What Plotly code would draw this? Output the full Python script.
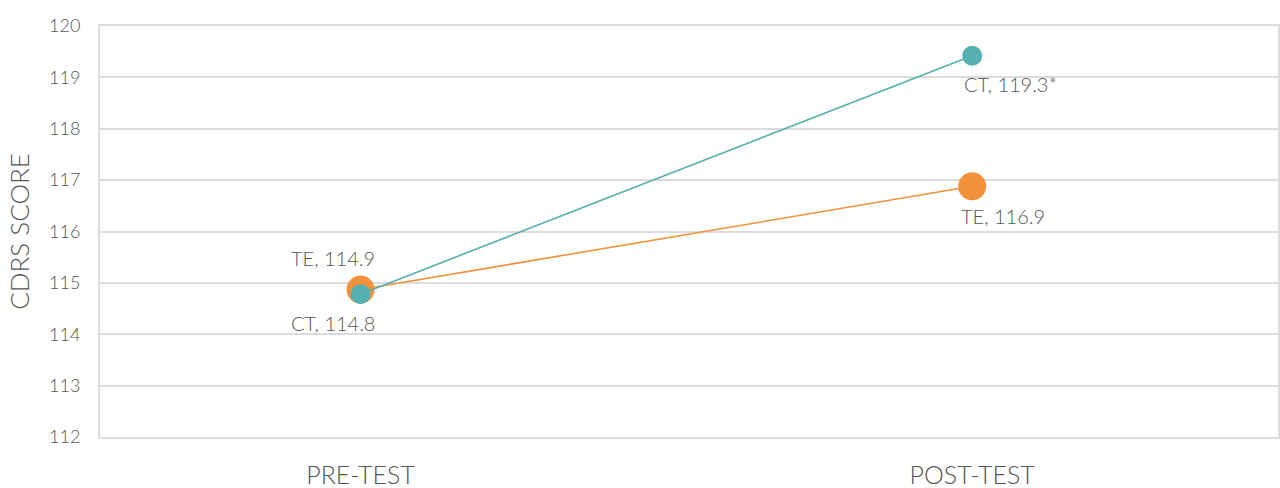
import plotly.graph_objects as go

categories = ["PRE-TEST", "POST-TEST"]
te_values = [114.87, 116.88]
ct_values = [114.78, 119.42]
te_labels = ["TE, 114.9", "TE, 116.9"]
ct_labels = ["CT, 114.8", "CT, 119.3*"]
y_ticks = [112, 113, 114, 115, 116, 117, 118, 119, 120]

ORANGE = "#F2913A"
TEAL = "#56AFB2"
TXT = "#555555"
GRID = "#dcdcdc"
FONT = "Lato"

fig = go.Figure()
fig.add_trace(go.Scatter(x=[0, 1], y=te_values, mode="lines+markers",
                         line=dict(color=ORANGE, width=1.6),
                         marker=dict(color=ORANGE, size=28), name="TE", showlegend=False))
fig.add_trace(go.Scatter(x=[0, 1], y=ct_values, mode="lines+markers",
                         line=dict(color=TEAL, width=1.6),
                         marker=dict(color=TEAL, size=20), name="CT", showlegend=False))

afont = dict(family=FONT, size=20, color=TXT, weight=300)
# pre-test labels (right-anchored, slightly right of the point)
fig.add_annotation(x=0, y=te_values[0], text=te_labels[0], showarrow=False,
                   xanchor="right", xshift=16, yshift=32, font=afont)
fig.add_annotation(x=0, y=ct_values[0], text=ct_labels[0], showarrow=False,
                   xanchor="right", xshift=16, yshift=-29, font=afont)
# post-test labels (left-anchored, slightly left of the point)
fig.add_annotation(x=1, y=ct_values[1], text=ct_labels[1], showarrow=False,
                   xanchor="left", xshift=-10, yshift=-28, font=afont)
fig.add_annotation(x=1, y=te_values[1], text=te_labels[1], showarrow=False,
                   xanchor="left", xshift=-13, yshift=-30, font=afont)

fig.update_layout(
    width=1280, height=488,
    margin=dict(l=100, r=2, t=26, b=51),
    plot_bgcolor="white", paper_bgcolor="white",
    font=dict(family=FONT, color=TXT, weight=300),
    xaxis=dict(tickmode="array", tickvals=[0, 1], ticktext=categories,
               range=[-0.426, 1.5], showgrid=False, zeroline=False,
               showline=True, mirror=True, linecolor=GRID, linewidth=2,
               automargin=False,
               tickfont=dict(size=25, family=FONT, color=TXT, weight=300),
               ticklabelstandoff=15),
    yaxis=dict(range=[112, 120], tickvals=y_ticks, showgrid=True, gridcolor=GRID,
               gridwidth=2, zeroline=False, showline=True, mirror=True,
               linecolor=GRID, linewidth=2, automargin=False,
               tickfont=dict(size=18, family=FONT, color=TXT, weight=300),
               ticklabelstandoff=14,
               title=dict(text="CDRS SCORE", standoff=12,
                          font=dict(size=26, family=FONT, color=TXT, weight=300))),
)

fig.write_html("out.html", config={"displayModeBar": False})

# remove the browser's default page margin so the figure fills the window exactly
with open("out.html", "r", encoding="utf-8") as f:
    html = f.read()
html = html.replace("<head>", "<head><style>html,body{margin:0;padding:0;overflow:hidden;}</style>", 1)
with open("out.html", "w", encoding="utf-8") as f:
    f.write(html)
